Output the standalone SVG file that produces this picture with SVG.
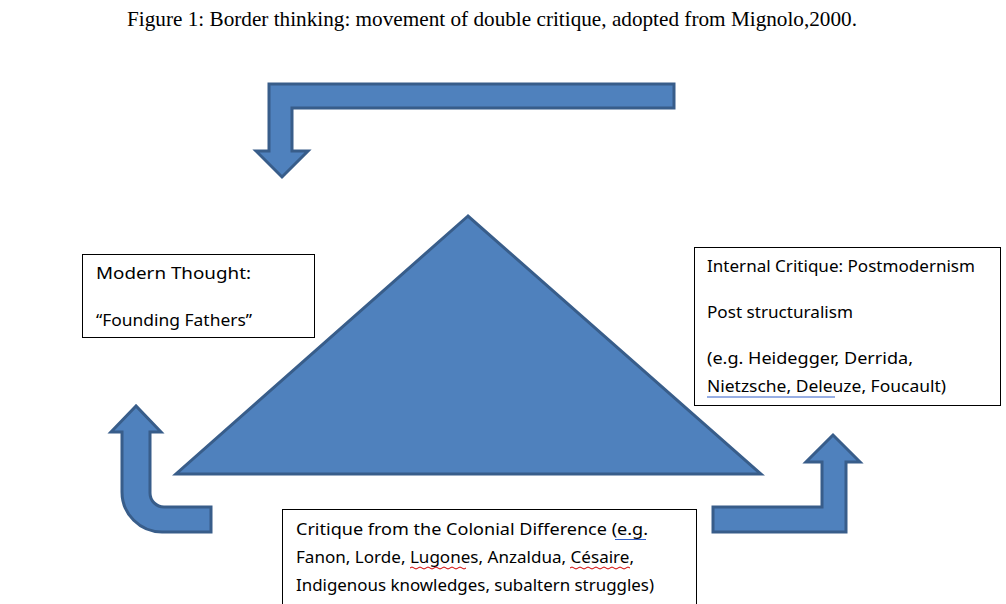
<svg xmlns="http://www.w3.org/2000/svg" width="1006" height="604" viewBox="0 0 1006 604">
<style>
.s{fill:#4F81BD;stroke:#385D8A;stroke-width:3;stroke-linejoin:miter}
.b{fill:#fff;stroke:#000;stroke-width:1}
.t{font-family:"Noto Sans","Liberation Sans",Arial,sans-serif;font-size:17px;fill:#000}
.u{stroke:#2E5CC7;stroke-width:1;fill:none}
.w{stroke:#D00000;stroke-width:1;fill:none}
</style>
<rect width="1006" height="604" fill="#fff"/>
<text x="127" y="26" textLength="730" lengthAdjust="spacingAndGlyphs" font-family="Liberation Serif,Times New Roman,serif" font-size="21">Figure 1: Border thinking: movement of double critique, adopted from Mignolo,2000.</text>
<g id="shapes">
<path id="arrow-top" class="s" d="M674,84 L269,84 L269,151 L256,151 L282,177 L308,151 L292,151 L292,108 L674,108 Z"/>
<polygon id="triangle" class="s" points="468,216 176,474 761,474"/>
<path id="arrow-left" class="s" d="M136,406 L111,432 L122,432 L122,492 A40,40 0 0 0 162,532 L211,532 L211,507 L164,507 A14,14 0 0 1 150,493 L150,432 L161,432 Z"/>
<path id="arrow-right" class="s" d="M833,435 L806,462 L822,462 L822,507 L713,507 L713,532 L846,532 L846,462 L860,462 Z"/>
</g>
<g id="box-modern">
<rect class="b" x="82.5" y="254.5" width="232" height="83"/>
<text class="t" x="96" y="279" textLength="155" lengthAdjust="spacingAndGlyphs">Modern Thought:</text>
<text class="t" x="96" y="326" textLength="156" lengthAdjust="spacingAndGlyphs">“Founding Fathers”</text>
</g>
<g id="box-internal">
<rect class="b" x="694.5" y="247.5" width="306" height="158"/>
<text class="t" x="707" y="272" textLength="268" lengthAdjust="spacingAndGlyphs">Internal Critique: Postmodernism</text>
<text class="t" x="707" y="318" textLength="146" lengthAdjust="spacingAndGlyphs">Post structuralism</text>
<text class="t" x="707" y="364" textLength="206" lengthAdjust="spacingAndGlyphs">(e.g. Heidegger, Derrida,</text>
<text class="t" x="707" y="392" textLength="239" lengthAdjust="spacingAndGlyphs">Nietzsche,  Deleuze, Foucault)</text>
<path class="u" d="M707,397 H835"/>
</g>
<g id="box-colonial">
<rect class="b" x="282.5" y="509.5" width="414" height="100"/>
<text class="t" x="296" y="535" textLength="352" lengthAdjust="spacingAndGlyphs">Critique from the Colonial Difference (e.g.</text>
<path class="u" d="M615,539.5 H646"/>
<text class="t" x="296" y="563" textLength="338" lengthAdjust="spacingAndGlyphs">Fanon, Lorde, Lugones, Anzaldua, Césaire,</text>
<path class="w" d="M410,568 q2,-2 4,0 t4,0 t4,0 t4,0 t4,0 t4,0 t4,0 t4,0 t4,0 t4,0 t4,0 t4,0 t4,0 t4,0 M570,568 q2,-2 4,0 t4,0 t4,0 t4,0 t4,0 t4,0 t4,0 t4,0 t4,0 t4,0 t4,0 t4,0 t4,0 t4,0 t4,0"/>
<text class="t" x="296" y="591" textLength="358" lengthAdjust="spacingAndGlyphs">Indigenous knowledges, subaltern struggles)</text>
</g>
</svg>
